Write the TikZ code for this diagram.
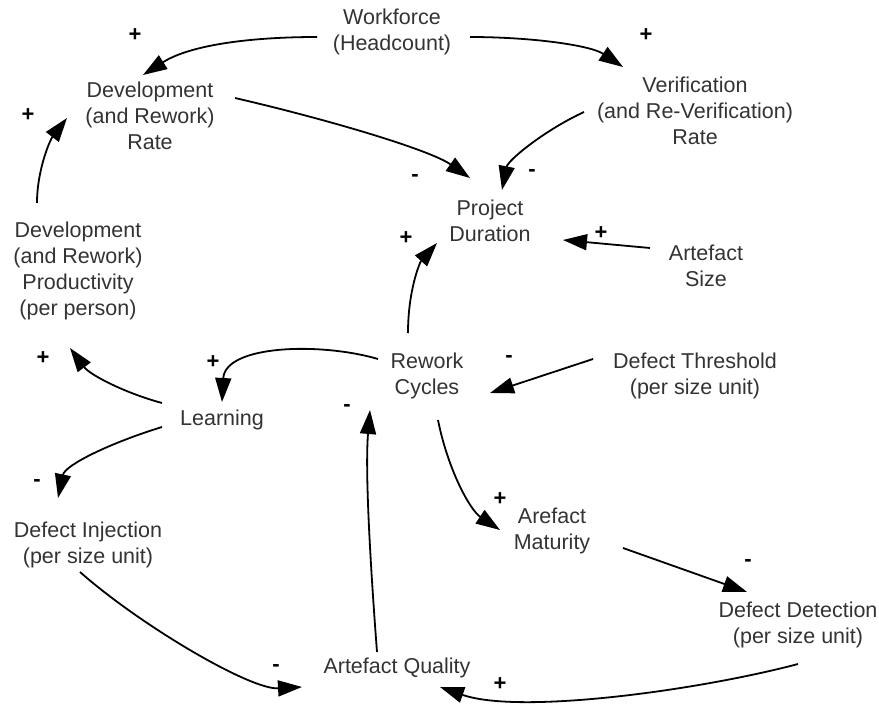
\documentclass[tikz,border=0pt]{standalone}
\usepackage{fontspec}
\setmainfont{Liberation Sans}
\usetikzlibrary{arrows.meta}
\definecolor{txt}{HTML}{333333}
\tikzset{
  var/.style={align=center, text=txt, inner sep=0pt, font=\fontsize{21.5}{26}\selectfont},
  sign/.style={inner sep=0pt, font=\bfseries\fontsize{22}{22}\selectfont},
  link/.style={line width=1.8pt, -{Triangle[length=24pt,width=16pt]}},
}
\begin{document}
\begin{tikzpicture}[x=1pt,y=-1pt]
\useasboundingbox (0,0) rectangle (879,704);

% variables
\node[var] (wf)   at (392,32)  {Workforce\\(Headcount)};
\node[var] (dev)  at (150,116) {Development\\(and Rework)\\Rate};
\node[var] (ver)  at (695,111) {Verification\\(and Re-Verification)\\Rate};
\node[var] (pd)   at (490,221) {Project\\Duration};
\node[var] (as)   at (706,266) {Artefact\\Size};
\node[var] (prod) at (78,271)  {Development\\(and Rework)\\Productivity\\(per person)};
\node[var] (rc)   at (427,376) {Rework\\Cycles};
\node[var] (dt)   at (695,376) {Defect Threshold\\(per size unit)};
\node[var] (lrn)  at (222,420) {Learning};
\node[var] (di)   at (88,545)  {Defect Injection\\(per size unit)};
\node[var] (am)   at (552,531) {Arefact\\Maturity};
\node[var] (dd)   at (798,625) {Defect Detection\\(per size unit)};
\node[var] (aq)   at (397,668) {Artefact Quality};

% causal links
\draw[link] ([shift={(-75,5)}]wf.center) .. controls +(-67,0) and +(47,-30) .. ([shift={(-7,-41)}]dev.center);
\draw[link] ([shift={(78,5)}]wf.center) .. controls +(60,0) and +(-33,-22) .. ([shift={(-72,-44)}]ver.center);
\draw[link] ([shift={(-41,-68)}]prod.center) .. controls +(0,-33) and +(-17,22) .. ([shift={(-83,2)}]dev.center);
\draw[link] ([shift={(85,-18)}]dev.center) .. controls +(95,22) and +(-40,-28) .. ([shift={(-20,-43)}]pd.center);
\draw[link] ([shift={(-111,1)}]ver.center) .. controls +(-39,18) and +(6,-30) .. ([shift={(12,-31)}]pd.center);
\draw[link] ([shift={(-56,-18)}]as.center) -- ([shift={(73,19)}]pd.center);
\draw[link] ([shift={(-19,-43)}]rc.center) .. controls +(0,-43) and +(-17,19) .. ([shift={(-53,22)}]pd.center);
\draw[link] ([shift={(-102,-17)}]dt.center) -- ([shift={(63,17)}]rc.center);
\draw[link] ([shift={(-49,-17)}]rc.center) .. controls +(-58,-17) and +(3,-57) .. ([shift={(0,-18)}]lrn.center);
\draw[link] ([shift={(-60,-17)}]lrn.center) .. controls +(-37,-10) and +(20,27) .. ([shift={(-8,77)}]prod.center);
\draw[link] ([shift={(-60,7)}]lrn.center) .. controls +(-52,16) and +(7,-33) .. ([shift={(-30,-47)}]di.center);
\draw[link] ([shift={(-8,27)}]di.center) .. controls +(60,53) and +(-52,3) .. ([shift={(-95,19)}]aq.center);
\draw[link] ([shift={(-20,-16)}]aq.center) .. controls +(-7,-92) and +(-5,60) .. ([shift={(-57,34)}]rc.center);
\draw[link] ([shift={(11,44)}]rc.center) .. controls +(10,50) and +(-30,-20) .. ([shift={(-52,-1)}]am.center);
\draw[link] ([shift={(71,17)}]am.center) -- ([shift={(-51,-33)}]dd.center);
\draw[link] ([shift={(0,39)}]dd.center) .. controls +(-98,26) and +(80,28) .. ([shift={(43,19)}]aq.center);

% polarities
\node[sign] (s1)  at (135,35)  {+};
\node[sign] (s2)  at (646,35)  {+};
\node[sign] (s3)  at (28,115)  {+};
\node[sign] (s4)  at (415,178) {-};
\node[sign] (s5)  at (532,173) {-};
\node[sign] (s6)  at (601,233) {+};
\node[sign] (s7)  at (406,238) {+};
\node[sign] (s8)  at (509,359) {-};
\node[sign] (s9)  at (213,362) {+};
\node[sign] (s10) at (43,358)  {+};
\node[sign] (s11) at (37,483)  {-};
\node[sign] (s12) at (276,668) {-};
\node[sign] (s13) at (347,408) {-};
\node[sign] (s14) at (500,499) {+};
\node[sign] (s15) at (748,563) {-};
\node[sign] (s16) at (500,684) {+};
\end{tikzpicture}
\end{document}
